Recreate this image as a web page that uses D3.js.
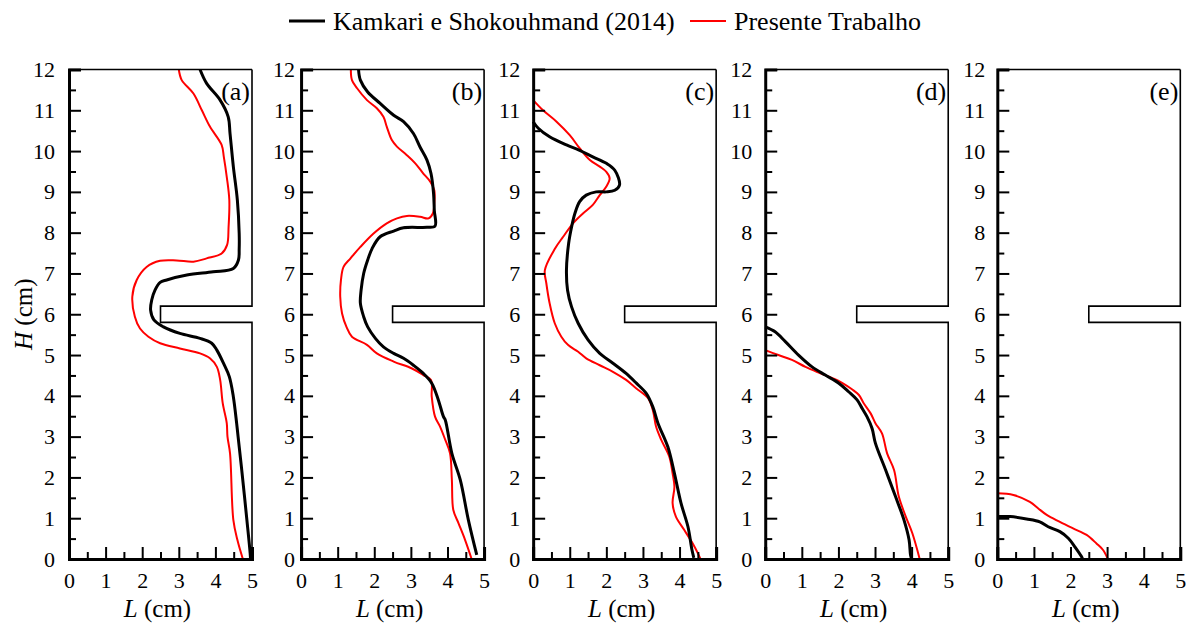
<!DOCTYPE html>
<html>
<head>
<meta charset="utf-8">
<script src="https://cdn.jsdelivr.net/npm/d3@7"></script>
<style>
  html, body { margin: 0; padding: 0; background: #fff; }
  svg text { font-family: "Liberation Serif", "Times New Roman", Times, "DejaVu Serif", serif !important; }
</style>
</head>
<body>
<svg id="chart" width="1188" height="625"></svg>
<script>
// Solid–liquid interface position (L, H) in cm for five instants.
const panelLabels = ["(a)", "(b)", "(c)", "(d)", "(e)"];
const seriesNames = ["Kamkari e Shokouhmand (2014)", "Presente Trabalho"];
const xTickValues = [0, 1, 2, 3, 4, 5];
const yTickValues = [0, 1, 2, 3, 4, 5, 6, 7, 8, 9, 10, 11, 12];

// Cavity wall with the horizontal fin (L, H)
const wallOutline = [[5, 12], [5, 6.2], [2.5, 6.2], [2.5, 5.8], [5, 5.8], [5, 0]];

const kamkariA = [[3.58,12],[3.76,11.66],[4.13,11.25],[4.35,10.84],[4.40,10.43],[4.49,9.62],[4.60,8.8],
  [4.65,7.98],[4.65,7.6],[4.63,7.33],[4.49,7.12],[3.94,7.04],[3.22,6.96],[2.67,6.84],[2.49,6.78],[2.35,6.59],
  [2.26,6.35],[2.23,6.10],[2.32,5.86],[2.58,5.69],[3.03,5.53],[3.58,5.41],[3.90,5.29],[4.04,5.12],[4.22,4.80],
  [4.38,4.47],[4.49,3.98],[4.58,3.33],[4.62,3.0],[4.72,2.18],[4.86,0.96],[4.95,0.14],[4.96,0]];
const presenteA = [[3.0,12],[3.08,11.74],[3.40,11.41],[3.63,11.0],[3.85,10.6],[4.17,10.15],[4.23,9.86],
  [4.31,9.37],[4.38,8.8],[4.36,8.14],[4.32,7.7],[4.17,7.49],[3.76,7.37],[3.40,7.29],[2.94,7.32],[2.49,7.31],
  [2.12,7.16],[1.85,6.84],[1.73,6.43],[1.80,5.94],[1.94,5.65],[2.17,5.45],[2.49,5.29],[3.03,5.16],[3.58,5.04],
  [3.85,4.92],[4.04,4.71],[4.13,4.39],[4.20,3.82],[4.31,3.33],[4.33,3.0],[4.40,2.59],[4.49,0.96],[4.60,0.47],[4.75,0]];

const kamkariB = [[1.57,12],[1.62,11.74],[1.82,11.45],[2.16,11.17],[2.53,10.88],[2.80,10.72],[3.07,10.43],
  [3.25,10.1],[3.44,9.78],[3.55,9.45],[3.62,8.96],[3.64,8.55],[3.66,8.16],[3.44,8.13],[2.80,8.12],[2.53,8.04],
  [2.16,7.9],[1.94,7.61],[1.82,7.33],[1.71,7.0],[1.64,6.59],[1.62,6.27],[1.71,5.94],[1.82,5.69],[2.03,5.41],
  [2.25,5.2],[2.53,5.04],[2.80,4.92],[3.07,4.75],[3.34,4.55],[3.57,4.31],[3.75,3.90],[3.89,3.49],[3.94,3.41],
  [4.12,2.59],[4.35,1.94],[4.57,0.96],[4.80,0.1]];
const presenteB = [[1.36,12],[1.39,11.74],[1.53,11.54],[1.80,11.25],[2.07,11.05],[2.25,10.84],[2.34,10.6],
  [2.48,10.27],[2.62,10.11],[2.89,9.90],[3.12,9.7],[3.34,9.45],[3.53,9.25],[3.64,9.04],[3.64,8.72],[3.60,8.47],
  [3.48,8.35],[3.25,8.39],[2.89,8.41],[2.62,8.35],[2.34,8.23],[1.98,7.98],[1.62,7.65],[1.35,7.37],[1.16,7.16],
  [1.09,6.84],[1.07,6.43],[1.12,6.02],[1.24,5.69],[1.39,5.45],[1.80,5.25],[2.07,5.04],[2.53,4.84],[3.03,4.67],
  [3.34,4.51],[3.55,4.39],[3.57,3.98],[3.66,3.49],[3.80,3.24],[3.94,2.92],[4.07,2.59],[4.12,1.94],[4.16,1.2],
  [4.30,0.88],[4.48,0.47],[4.66,0]];

const kamkariC = [[0,10.72],[0.14,10.56],[0.45,10.35],[0.91,10.15],[1.27,10.02],[1.63,9.86],[2.0,9.7],
  [2.23,9.53],[2.36,9.17],[2.23,9.04],[2.0,9.0],[1.72,9.0],[1.45,8.92],[1.27,8.76],[1.14,8.47],[1.05,8.14],
  [0.97,7.74],[0.91,7.08],[0.94,6.59],[1.05,6.18],[1.23,5.78],[1.50,5.37],[1.82,5.04],[2.18,4.80],[2.54,4.55],
  [2.82,4.31],[3.09,4.06],[3.27,3.73],[3.41,3.33],[3.68,2.75],[3.86,2.10],[4.04,1.37],[4.23,0.79],[4.34,0.22],
  [4.39,0.03]];
const presenteC = [[0,11.25],[0.27,11.0],[0.64,10.72],[1.0,10.39],[1.27,10.07],[1.55,9.78],[1.82,9.62],
  [2.0,9.49],[2.09,9.33],[2.0,9.13],[1.82,8.92],[1.63,8.68],[1.36,8.47],[1.09,8.23],[0.82,7.90],[0.59,7.6],
  [0.32,7.08],[0.36,6.76],[0.45,6.27],[0.59,5.78],[0.77,5.45],[0.95,5.25],[1.23,5.08],[1.45,4.92],[1.82,4.75],
  [2.18,4.59],[2.54,4.39],[2.82,4.18],[3.14,3.94],[3.27,3.65],[3.36,3.24],[3.50,2.92],[3.72,2.51],[3.81,2.10],
  [3.86,1.77],[3.81,1.37],[3.90,1.04],[4.13,0.71],[4.36,0.38],[4.50,0.14],[4.57,0]];

const kamkariD = [[0,5.69],[0.27,5.57],[0.55,5.33],[0.91,5.0],[1.28,4.71],[1.64,4.51],[2.01,4.31],
  [2.28,4.10],[2.51,3.90],[2.65,3.69],[2.78,3.49],[2.92,3.2],[3.01,2.84],[3.29,2.18],[3.56,1.53],[3.79,0.96],
  [3.93,0.47],[3.97,0.1],[4.0,0]];
const presenteD = [[0,5.12],[0.36,5.0],[0.73,4.88],[1.10,4.71],[1.46,4.57],[1.82,4.44],[2.10,4.32],
  [2.37,4.16],[2.56,4.02],[2.69,3.82],[2.88,3.57],[3.01,3.33],[3.19,3.08],[3.33,2.59],[3.52,2.18],[3.65,1.53],
  [3.84,1.04],[4.02,0.63],[4.22,0]];

const kamkariE = [[0,1.04],[0.35,1.04],[0.80,0.98],[1.16,0.91],[1.39,0.79],[1.71,0.67],[1.94,0.51],
  [2.12,0.30],[2.30,0.06],[2.33,0]];
const presenteE = [[0,1.61],[0.44,1.57],[0.89,1.40],[1.12,1.24],[1.35,1.08],[1.71,0.91],[2.07,0.75],
  [2.44,0.59],[2.71,0.38],[2.89,0.22],[3.02,0]];

const kamkariSeries = [kamkariA, kamkariB, kamkariC, kamkariD, kamkariE];
const presenteSeries = [presenteA, presenteB, presenteC, presenteD, presenteE];

const svg = d3.select("#chart");
const colors = { ref: "#000000", present: "#ff0000" };

const panelWidth = 183;
const plotTop = 69.5, plotBottom = 559;
const panelLeft = d3.scaleLinear().domain([0, 4]).range([69, 997.3]);
const labelGap = [14, 6, 13, 13, 12];
const y = d3.scaleLinear().domain([0, 12]).range([plotBottom, plotTop]);

const halfSteps = (lo, hi) => d3.range(lo * 2, hi * 2 + 1).map(v => v / 2).filter(v => v % 1 !== 0);

panelLabels.forEach((label, i) => {
  const x0 = panelLeft(i);
  const x = d3.scaleLinear().domain([0, 5]).range([x0, x0 + panelWidth]);
  const g = svg.append("g");

  // Curves
  const line = d3.line().x(d => x(d[0])).y(d => y(d[1])).curve(d3.curveCatmullRom.alpha(0.5));
  g.append("path").datum(presenteSeries[i]).attr("d", line)
    .attr("fill", "none").attr("stroke", colors.present).attr("stroke-width", 2);
  g.append("path").datum(kamkariSeries[i]).attr("d", line)
    .attr("fill", "none").attr("stroke", colors.ref).attr("stroke-width", 3);

  // Wall with fin, and top edge
  const straight = d3.line().x(d => x(d[0])).y(d => y(d[1]));
  g.append("path").datum(wallOutline).attr("d", straight)
    .attr("fill", "none").attr("stroke", "#000").attr("stroke-width", 1.6);
  g.append("path").datum([[0, 12], [5, 12]]).attr("d", straight)
    .attr("fill", "none").attr("stroke", "#000").attr("stroke-width", 1.6);

  // Left axis: inward ticks
  const yMajor = d3.axisLeft(y).tickValues(yTickValues).tickSize(-12).tickPadding(labelGap[i]).tickFormat(d3.format("d"));
  const yMinor = d3.axisLeft(y).tickValues(halfSteps(0, 12)).tickSize(-7).tickFormat("");
  const ya = g.append("g").attr("transform", `translate(${x0},0)`).call(yMajor);
  g.append("g").attr("transform", `translate(${x0},0)`).call(yMinor)
    .call(s => s.select(".domain").remove());

  // Bottom axis: inward ticks
  const xMajor = d3.axisBottom(x).tickValues(xTickValues).tickSize(-12).tickPadding(21).tickFormat(d3.format("d"));
  const xMinor = d3.axisBottom(x).tickValues(halfSteps(0, 5)).tickSize(-7).tickFormat("");
  const xa = g.append("g").attr("transform", `translate(0,${plotBottom})`).call(xMajor);
  g.append("g").attr("transform", `translate(0,${plotBottom})`).call(xMinor)
    .call(s => s.select(".domain").remove());

  [ya, xa].forEach(a => {
    a.attr("font-family", null);
    a.select(".domain").attr("stroke-width", 3).attr("stroke", "#000");
    a.selectAll(".tick text").attr("font-size", 22).attr("fill", "#000");
  });
  g.selectAll(".tick line").attr("stroke-width", 2).attr("stroke", "#000");
  xa.selectAll(".tick text").attr("dy", "0.35em");

  // Axis title
  const xt = g.append("text").attr("x", x0 + panelWidth / 2 - 3).attr("y", 617)
    .attr("text-anchor", "middle").attr("font-size", 25).attr("fill", "#000");
  xt.append("tspan").attr("font-style", "italic").text("L");
  xt.append("tspan").text(" (cm)");

  // Panel label
  g.append("text").attr("x", x0 + panelWidth - 2).attr("y", 100)
    .attr("text-anchor", "end").attr("font-size", 26).attr("fill", "#000").text(label);
});

// Vertical title on the first panel
const yt = svg.append("text")
  .attr("transform", `translate(32,${(plotTop + plotBottom) / 2}) rotate(-90)`)
  .attr("text-anchor", "middle").attr("font-size", 25).attr("fill", "#000");
yt.append("tspan").attr("font-style", "italic").text("H");
yt.append("tspan").text(" (cm)");

// Legend
const legend = svg.append("g");
const legendItems = [
  { name: seriesNames[0], color: colors.ref, width: 3, x: 289 },
  { name: seriesNames[1], color: colors.present, width: 2, x: 690 }
];
legendItems.forEach(it => {
  legend.append("line").attr("x1", it.x).attr("x2", it.x + 36).attr("y1", 21).attr("y2", 21)
    .attr("stroke", it.color).attr("stroke-width", it.width);
  legend.append("text").attr("x", it.x + 44).attr("y", 30).attr("font-size", 26)
    .attr("fill", "#000").text(it.name);
});
</script>
</body>
</html>
